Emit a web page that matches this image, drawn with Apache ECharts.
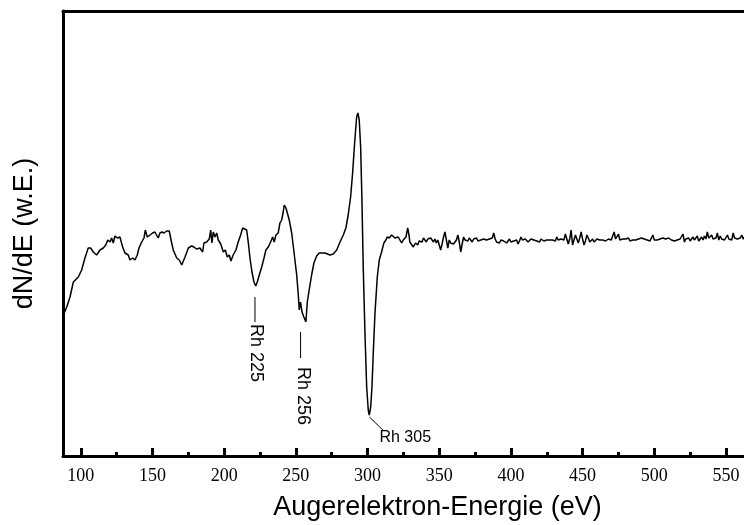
<!DOCTYPE html>
<html>
<head>
<meta charset="utf-8">
<script src="https://cdn.jsdelivr.net/npm/echarts@6/dist/echarts.min.js"></script>
<style>
    html, body {margin: 0; padding: 0; background: #fff;}
    #chart {width: 744px; height: 525px;}
</style>
</head>
<body>
<div id="chart"></div>
<script>
// Auger spectrum, energies in eV, signal in arbitrary units (w.E.)
const energyLow = [
    87.6, 90.2, 92.5, 94.8, 96.0, 98.3, 100.6, 102.9, 105.2, 106.9,
    108.7, 111.1, 113.4, 115.7, 117.4, 118.8, 120.4, 121.5, 122.7, 123.8,
    125.5, 127.3, 129.2, 130.8, 133.1, 134.3, 136.2, 137.8, 139.4, 140.6,
    142.5, 144.1, 145.0, 146.4, 148.3, 150.1, 151.7, 152.9, 154.0, 155.2,
    156.6, 158.0, 159.9, 161.7, 163.4, 164.5, 166.9, 168.7, 170.4, 171.2,
    172.7, 175.0, 177.3, 178.9, 180.8, 183.1, 185.0, 185.9, 187.8, 189.6,
    190.6, 191.5, 192.4, 193.6, 194.8, 195.9, 197.6, 199.4, 200.8, 202.2,
    203.6, 204.7, 206.3, 208.2, 209.8, 211.5, 212.9, 214.0, 215.7, 216.8,
    218.0, 219.4, 220.8, 222.0, 223.1, 224.3, 225.0, 226.2, 227.8, 229.1,
    230.8, 232.4, 233.8, 234.9, 236.1, 237.7, 238.9, 240.1, 241.2, 241.9,
    243.1, 244.0, 245.4, 247.1, 248.7, 250.6, 251.7, 252.4, 253.3, 254.3,
    255.6, 257.0, 258.0, 259.3, 261.0, 262.6, 264.5, 266.3, 270.3, 273.8,
    276.1, 278.5, 280.8, 283.1, 284.9, 286.5, 288.2, 289.6, 291.0, 292.4,
    293.3, 294.2, 295.2, 296.1, 297.0, 298.2, 299.4, 300.5, 301.2, 302.2,
    303.1, 304.0, 305.2, 306.8, 308.2, 309.8, 311.4, 312.8, 313.7, 315.1,
    316.8, 317.9, 319.1, 320.3, 321.4, 322.6, 323.8, 324.9, 326.8, 328.0,
    328.9, 329.5, 331.9, 333.5, 335.0
];
const signalLow = [
    142, 151, 161, 176, 175, 181, 188, 200, 210, 210,
    206, 203, 208, 210, 213, 218, 216, 220, 215, 222,
    220, 221, 211, 205, 203, 198, 200, 198, 203, 210,
    216, 220, 228, 221, 223, 225, 226, 226, 220, 225,
    226, 225, 227, 227, 215, 208, 200, 198, 193, 192,
    201, 210, 212, 211, 209, 210, 206, 215, 216, 219,
    228, 215, 226, 221, 225, 218, 214, 206, 208, 201,
    203, 197, 203, 208, 216, 223, 230, 232, 228, 216,
    200, 186, 176, 172, 176, 182, 180, 191, 200, 208,
    211, 216, 221, 216, 223, 225, 235, 238, 246, 253,
    250, 248, 238, 225, 206, 183, 163, 148, 156, 146,
    141, 136, 156, 168, 183, 195, 202, 205, 205, 203,
    204, 208, 216, 223, 230, 243, 261, 285, 315, 341,
    345, 338, 311, 258, 191, 125, 71, 48, 43, 51,
    71, 105, 145, 181, 198, 206, 215, 218, 221, 220,
    223, 221, 220, 218, 221, 218, 215, 218, 221, 230,
    223, 216, 211, 215, 213
];
const energyHigh = [
    336, 337, 338, 339, 340, 341, 342, 343, 344, 345,
    346, 347, 348, 349, 350, 351, 352, 353, 354, 355,
    356, 357, 358, 359, 360, 361, 362, 363, 364, 365,
    366, 367, 368, 369, 370, 371, 372, 373, 374, 375,
    376, 377, 378, 379, 380, 381, 382, 383, 384, 385,
    386, 387, 388, 389, 390, 391, 392, 393, 394, 395,
    396, 397, 398, 399, 400, 401, 402, 403, 404, 405,
    406, 407, 408, 409, 410, 411, 412, 413, 414, 415,
    416, 417, 418, 419, 420, 421, 422, 423, 424, 425,
    426, 427, 428, 429, 430, 431, 432, 433, 434, 435,
    436, 437, 438, 439, 440, 441, 442, 443, 444, 445,
    446, 447, 448, 449, 450, 451, 452, 453, 454, 455,
    456, 457, 458, 459, 460, 461, 462, 463, 464, 465,
    466, 467, 468, 469, 470, 471, 472, 473, 474, 475,
    476, 477, 478, 479, 480, 481, 482, 483, 484, 485,
    486, 487, 488, 489, 490, 491, 492, 493, 494, 495,
    496, 497, 498, 499, 500, 501, 502, 503, 504, 505,
    506, 507, 508, 509, 510, 511, 512, 513, 514, 515,
    516, 517, 518, 519, 520, 521, 522, 523, 524, 525,
    526, 527, 528, 529, 530, 531, 532, 533, 534, 535,
    536, 537, 538, 539, 540, 541, 542, 543, 544, 545,
    546, 547, 548, 549, 550, 551, 552, 553, 554, 555,
    556, 557, 558, 559, 560, 561, 562, 563
];
const signalHigh = [
    217, 219, 216, 220, 218, 216, 219, 217, 220, 218,
    216, 219, 215, 218, 220, 208, 214, 221, 226, 218,
    210, 218, 215, 217, 214, 213, 218, 223, 216, 206,
    214, 221, 218, 219, 217, 220, 218, 216, 219, 218,
    220, 217, 219, 218, 216, 219, 220, 218, 217, 219,
    218, 220, 225, 219, 216, 217, 215, 218, 216, 217,
    218, 215, 217, 219, 216, 218, 217, 215, 218, 214,
    217, 221, 218, 217, 219, 218, 216, 218, 219, 217,
    218, 220, 217, 218, 216, 219, 218, 217, 219, 218,
    217, 218, 220, 218, 219, 217, 221, 218, 220, 219,
    221, 218, 224, 219, 214, 219, 228, 213, 218, 223,
    219, 215, 220, 226, 219, 213, 217, 223, 220, 216,
    218, 219, 216, 218, 219, 217, 218, 220, 218, 219,
    217, 218, 219, 217, 218, 220, 226, 219, 221, 224,
    218, 220, 219, 217, 219, 218, 220, 217, 219, 218,
    220, 218, 217, 219, 218, 220, 218, 219, 217, 218,
    219, 217, 220, 223, 218, 219, 218, 217, 219, 218,
    220, 218, 219, 217, 220, 219, 218, 220, 217, 219,
    218, 220, 219, 218, 224, 216, 219, 218, 220, 217,
    219, 221, 218, 220, 222, 217, 219, 221, 218, 222,
    219, 226, 220, 218, 223, 219, 221, 220, 225, 218,
    222, 219, 221, 218, 220, 223, 219, 221, 218, 225,
    220, 222, 219, 221, 220, 223, 219, 221
];

const majorTicks = [100, 150, 200, 250, 300, 350, 400, 450, 500, 550, 600];
const minorTicks = [125, 175, 225, 275, 325, 375, 425, 475, 525, 575];

// peak labels: text, leader line start/end, text anchor (all in eV / w.E.)
const peakNames = ['Rh 225', 'Rh 256', 'Rh 305'];
const leaderFrom = [[221.5, 161], [253.3, 126], [301.3, 41]];
const leaderTo = [[221.5, 136], [253.3, 100], [310.7, 28]];
const labelAt = [[222.5, 134], [255.2, 91], [308.3, 20]];
const labelVertical = [true, true, false];
const labelSize = [18, 18, 16];

const X_MIN = 87.6;
const X_MAX = 610;

let spectrum = [];
for (let i = 0; i < energyLow.length; i++) {
    spectrum.push([energyLow[i], signalLow[i]]);
}
for (let i = 0; i < energyHigh.length; i++) {
    spectrum.push([energyHigh[i], signalHigh[i]]);
}

const chart = echarts.init(document.getElementById('chart'));

const black = '#000';
const option = {
    animation: false,
    backgroundColor: '#fff',
    grid: {
        left: 63,
        top: 11,
        right: -68,
        bottom: 69,
        outerBoundsMode: 'none',
        containLabel: false,
    },
    xAxis: [
        {
            type: 'value',
            position: 'bottom',
            min: X_MIN,
            max: X_MAX,
            name: 'Augerelektron-Energie (eV)',
            nameLocation: 'middle',
            nameGap: 38,
            nameTextStyle: {
                color: black,
                fontFamily: 'Liberation Sans',
                fontSize: 27,
            },
            axisLine: {
                show: true,
                onZero: false,
                lineStyle: {color: black, width: 3},
            },
            axisTick: {
                show: true,
                inside: true,
                length: 8,
                customValues: majorTicks,
                lineStyle: {color: black, width: 3},
            },
            axisLabel: {
                customValues: majorTicks,
                margin: 11,
                color: black,
                fontFamily: 'Liberation Serif',
                fontSize: 18,
            },
            splitLine: {show: false},
        },
        // minor ticks
        {
            type: 'value',
            position: 'bottom',
            min: X_MIN,
            max: X_MAX,
            axisLine: {show: false, onZero: false},
            axisTick: {
                show: true,
                inside: true,
                length: 4,
                customValues: minorTicks,
                lineStyle: {color: black, width: 3},
            },
            axisLabel: {show: false},
            splitLine: {show: false},
        },
        // top frame line
        {
            type: 'value',
            position: 'top',
            min: X_MIN,
            max: X_MAX,
            axisLine: {show: true, onZero: false, lineStyle: {color: black, width: 3}},
            axisTick: {show: false},
            axisLabel: {show: false},
            splitLine: {show: false},
        },
    ],
    yAxis: {
        type: 'value',
        min: 2,
        max: 447,
        name: 'dN/dE (w.E.)',
        nameLocation: 'middle',
        nameGap: 25,
        nameTextStyle: {
            color: black,
            fontFamily: 'Liberation Sans',
            fontSize: 27,
        },
        axisLine: {show: true, onZero: false, lineStyle: {color: black, width: 3}},
        axisTick: {show: false},
        axisLabel: {show: false},
        splitLine: {show: false},
    },
    series: [
        {
            type: 'line',
            xAxisIndex: 0,
            yAxisIndex: 0,
            data: spectrum,
            showSymbol: false,
            symbol: 'none',
            lineStyle: {color: black, width: 1.5},
            z: 3,
        },
    ],
};
chart.setOption(option);

// peak annotations placed through the chart's own scales
const toPx = (p) => chart.convertToPixel({xAxisIndex: 0, yAxisIndex: 0}, p);
let graphics = [];
for (let i = 0; i < peakNames.length; i++) {
    const a = toPx(leaderFrom[i]);
    const b = toPx(leaderTo[i]);
    const t = toPx(labelAt[i]);
    graphics.push({
        type: 'line',
        shape: {x1: a[0], y1: a[1], x2: b[0], y2: b[1]},
        style: {stroke: black, lineWidth: 1},
        z: 10,
    });
    graphics.push({
        type: 'text',
        x: t[0],
        y: t[1],
        rotation: labelVertical[i] ? -Math.PI / 2 : 0,
        style: {
            text: peakNames[i],
            fill: black,
            font: labelSize[i] + 'px "Liberation Sans"',
            textAlign: 'left',
            textVerticalAlign: 'middle',
        },
        z: 10,
    });
}
chart.setOption({graphic: graphics});
</script>
</body>
</html>
